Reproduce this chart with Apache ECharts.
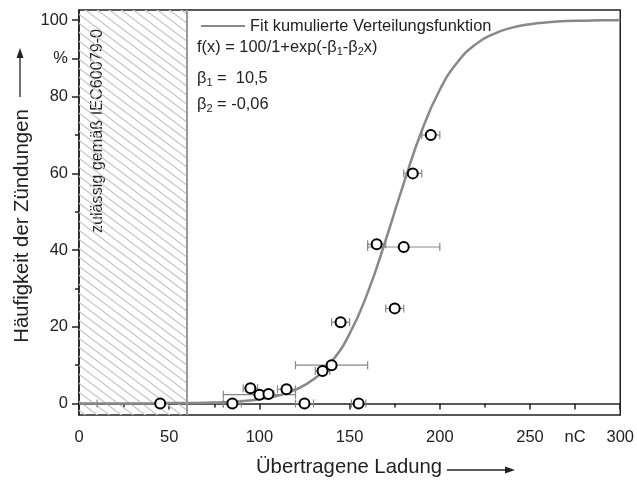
<!DOCTYPE html>
<html>
<head>
<meta charset="utf-8">
<script src="https://cdn.jsdelivr.net/npm/echarts@6/dist/echarts.min.js"></script>
<style>
  html, body { margin: 0; padding: 0; background: #fff; }
  #chart { width: 637px; height: 480px; }
</style>
</head>
<body>
<div id="chart"></div>
<script>
// Messpunkte: Ladung (nC), Häufigkeit (%), Fehler in x (nC)
var ladung = [45, 85, 95, 100, 105, 115, 125, 135, 140, 145, 155, 165, 175, 180, 185, 195];
var haeufigkeit = [0, 0, 4, 2.3, 2.5, 3.7, 0, 8.5, 10, 21.2, 0, 41.5, 24.8, 40.8, 60, 70];
var fehlerX = [35, 5, 4, 20, 3, 5, 5, 4, 20, 5, 4, 5, 5, 20, 5, 5];

// Fitkurve
var fitX = [0, 10, 20, 30, 40, 50, 60, 70, 80, 90, 100, 110, 120, 130, 140, 150,
            160, 170, 180, 190, 200, 210, 220, 230, 240, 250, 260, 270, 280, 290, 300];
var fitY = [0, 0, 0, 0, 0, 0.1, 0.1, 0.2, 0.3, 0.6, 1.1, 2.0, 3.6, 6.3, 10.9, 18.2,
            28.9, 42.6, 57.4, 71.1, 81.8, 89.1, 93.7, 96.4, 98.0, 98.9, 99.4, 99.7, 99.8, 99.9, 99.9];

var xTicks = [0, 50, 100, 150, 200, 250, 275, 300];
var xMinorTicks = [25, 75, 125, 175, 225];
var yTicks = [0, 20, 40, 60, 80, 90, 100];
var yMinorTicks = [10, 30, 50, 70];

var fitName = 'Fit kumulierte Verteilungsfunktion';
var FONT = 'Liberation Sans, Arial, sans-serif';

// Schraffur
var hatch = document.createElement('canvas');
hatch.width = 12; hatch.height = 9;
var hc = hatch.getContext('2d');
hc.strokeStyle = '#c6c6c6';
hc.lineWidth = 1.3;
hc.beginPath();
hc.moveTo(-12, -9); hc.lineTo(24, 18);
hc.moveTo(-12, 0); hc.lineTo(12, 18);
hc.moveTo(0, -9); hc.lineTo(24, 9);
hc.stroke();

var fitData = fitX.map(function (x, i) { return [x, fitY[i]]; });
var pointData = ladung.map(function (x, i) { return [x, haeufigkeit[i]]; });
var errData = ladung.map(function (x, i) {
  return [x, haeufigkeit[i], x - fehlerX[i], x + fehlerX[i]];
});

var chart = echarts.init(document.getElementById('chart'));

var sub = { fontSize: 11, lineHeight: 10, verticalAlign: 'bottom', fill: '#222' };

var option = {
  animation: false,
  textStyle: { fontFamily: FONT },
  grid: {
    left: 79, right: 15, top: 10, bottom: 65,
    show: true, borderColor: '#222', borderWidth: 1.5
  },
  legend: {
    data: [{ name: fitName, icon: 'rect' }],
    left: 196, top: 13,
    itemWidth: 44, itemHeight: 2, itemGap: 5,
    textStyle: { fontSize: 16.4, color: '#222', fontFamily: FONT, padding: [0, 0, 0, 0] }
  },
  xAxis: [{
    type: 'value', min: 0, max: 300, interval: 50,
    axisLine: { lineStyle: { color: '#222', width: 1.5 } },
    axisTick: { customValues: xTicks, length: 6, lineStyle: { color: '#222', width: 1.5 } },
    axisLabel: {
      customValues: xTicks, margin: 14, fontSize: 16.5, color: '#222',
      formatter: function (v) { return v === 275 ? 'nC' : String(v); }
    },
    splitLine: { show: false }
  }, {
    type: 'value', min: 0, max: 300, position: 'bottom',
    axisLine: { show: false },
    axisTick: { customValues: xMinorTicks, length: 4, lineStyle: { color: '#222', width: 1.5 } },
    axisLabel: { show: false },
    splitLine: { show: false }
  }],
  yAxis: [{
    type: 'value', min: -3, max: 102.6,
    axisLine: { show: true, lineStyle: { color: '#222', width: 1.5 } },
    axisTick: { show: true, customValues: yTicks, length: 7, lineStyle: { color: '#222', width: 1.5 } },
    axisLabel: {
      customValues: yTicks, margin: 11, fontSize: 16.5, color: '#222',
      formatter: function (v) { return v === 90 ? '%' : String(v); }
    },
    splitLine: { show: false }
  }, {
    type: 'value', min: -3, max: 102.6, position: 'left',
    axisLine: { show: false },
    axisTick: { show: true, customValues: yMinorTicks, length: 4, lineStyle: { color: '#222', width: 1.5 } },
    axisLabel: { show: false },
    splitLine: { show: false }
  }],
  series: [{
    name: fitName,
    type: 'line',
    data: fitData,
    smooth: true,
    symbol: 'none',
    lineStyle: { color: '#888', width: 2.5 },
    itemStyle: { color: '#888' },
    z: 3,
    markArea: {
      silent: true,
      itemStyle: { color: { image: hatch, repeat: 'repeat' } },
      data: [[{ xAxis: 0 }, { xAxis: 60 }]]
    },
    markLine: {
      silent: true,
      symbol: 'none',
      label: { show: false },
      lineStyle: { color: '#999', width: 2, type: 'solid' },
      data: [{ xAxis: 60 }]
    }
  }, {
    name: 'Fehler',
    type: 'custom',
    data: errData,
    encode: { x: 0, y: 1 },
    z: 4,
    renderItem: function (params, api) {
      var y = api.value(1);
      var a = api.coord([api.value(2), y]);
      var b = api.coord([api.value(3), y]);
      var h = 4;
      var st = { stroke: '#888', lineWidth: 1.2 };
      return {
        type: 'group',
        children: [
          { type: 'line', shape: { x1: a[0], y1: a[1], x2: b[0], y2: b[1] }, style: st },
          { type: 'line', shape: { x1: a[0], y1: a[1] - h, x2: a[0], y2: a[1] + h }, style: st },
          { type: 'line', shape: { x1: b[0], y1: b[1] - h, x2: b[0], y2: b[1] + h }, style: st }
        ]
      };
    }
  }, {
    name: 'Messwerte',
    type: 'scatter',
    data: pointData,
    symbol: 'circle',
    symbolSize: 10,
    itemStyle: { color: '#fff', borderColor: '#000', borderWidth: 2, opacity: 1 },
    z: 5
  }],
  graphic: [{
    type: 'text', left: 197, top: 37,
    style: {
      text: 'f(x) = 100/1+exp(-β{s|1}-β{s|2}x)',
      font: '16.4px ' + FONT, fill: '#222', rich: { s: sub }, lineHeight: 20
    }
  }, {
    type: 'text', left: 197, top: 68,
    style: {
      text: 'β{s|1} =  10,5',
      font: '16.4px ' + FONT, fill: '#222', rich: { s: sub }, lineHeight: 20
    }
  }, {
    type: 'text', left: 197, top: 94,
    style: {
      text: 'β{s|2} = -0,06',
      font: '16.4px ' + FONT, fill: '#222', rich: { s: sub }, lineHeight: 20
    }
  }, {
    type: 'text', x: 98, y: 131, rotation: Math.PI / 2,
    style: {
      text: 'zulässig gemäß IEC60079-0',
      font: '16.2px ' + FONT, fill: '#222',
      align: 'center', verticalAlign: 'middle'
    }
  }, {
    type: 'text', x: 22, y: 226, rotation: Math.PI / 2,
    style: {
      text: 'Häufigkeit der Zündungen',
      font: '20.3px ' + FONT, fill: '#222',
      align: 'center', verticalAlign: 'middle'
    }
  }, {
    type: 'line', shape: { x1: 20, y1: 97, x2: 20, y2: 56 },
    style: { stroke: '#222', lineWidth: 1.3 }
  }, {
    type: 'polygon', shape: { points: [[20, 48], [16.5, 58], [23.5, 58]] },
    style: { fill: '#222' }
  }, {
    type: 'text', x: 349, y: 467,
    style: {
      text: 'Übertragene Ladung',
      font: '20.3px ' + FONT, fill: '#222',
      align: 'center', verticalAlign: 'middle'
    }
  }, {
    type: 'line', shape: { x1: 447, y1: 470, x2: 507, y2: 470 },
    style: { stroke: '#222', lineWidth: 1.3 }
  }, {
    type: 'polygon', shape: { points: [[515, 470], [505, 466.5], [505, 473.5]] },
    style: { fill: '#222' }
  }]
};

chart.setOption(option);
</script>
</body>
</html>
